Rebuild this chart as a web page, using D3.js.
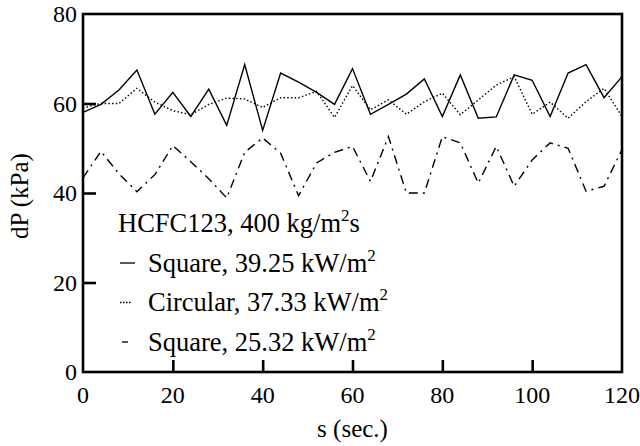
<!DOCTYPE html>
<html>
<head>
<meta charset="utf-8">
<script src="https://cdn.jsdelivr.net/npm/d3@7"></script>
<style>
  body { margin: 0; background: #fff; }
  text { font-family: "Liberation Serif", "Times New Roman", serif; fill: #000; }
</style>
</head>
<body>
<script>
// time in seconds, one reading every 4 s
var times = [0, 4, 8, 12, 16, 20, 24, 28, 32, 36, 40, 44, 48, 52, 56, 60,
             64, 68, 72, 76, 80, 84, 88, 92, 96, 100, 104, 108, 112, 116, 120];

// Square, 39.25 kW/m2
var square39 = [58.0, 59.8, 63.0, 67.5, 57.6, 62.5, 57.1, 63.2, 55.1, 68.7, 54.0,
                66.8, 64.8, 62.5, 59.8, 67.8, 57.6, 59.8, 62.1, 65.5, 57.1, 66.4,
                56.7, 57.0, 66.4, 65.2, 57.1, 66.8, 68.7, 61.3, 66.0];

// Circular, 37.33 kW/m2
var circular37 = [59.0, 60.0, 60.0, 63.4, 60.3, 58.4, 57.5, 59.8, 61.2, 61.0, 59.1,
                  61.3, 61.3, 62.7, 56.9, 64.0, 58.6, 60.8, 57.6, 60.4, 62.3, 57.5,
                  60.8, 64.1, 66.0, 57.6, 60.3, 56.7, 60.4, 63.4, 57.1];

// Square, 25.32 kW/m2
var square25 = [43.4, 49.3, 44.3, 40.3, 44.1, 50.6, 47.0, 43.2, 38.9, 49.1, 52.3,
                48.9, 39.4, 46.7, 49.1, 50.4, 42.6, 52.6, 40.0, 40.0, 52.6, 51.2,
                42.2, 50.4, 41.5, 47.4, 51.2, 50.0, 40.4, 41.5, 49.7];

var xTicks = [0, 20, 40, 60, 80, 100, 120];
var yTicks = [0, 20, 40, 60, 80];

var seriesNames = ["Square, 39.25 kW/m", "Circular, 37.33 kW/m", "Square, 25.32 kW/m"];
var seriesDash = ["none", "1.5,2.2", "9,5,2,5"];
var legendDash = ["none", "1.5,1.5", "none"];
var legendLen = [15, 12, 6];

var width = 640, height = 446;
// plot box (don't use "top", it clashes with window.top)
var pLeft = 83, pRight = 622, pTop = 14, pBottom = 372;

var svg = d3.select("body").append("svg")
    .attr("width", width)
    .attr("height", height);

var x = d3.scaleLinear().domain([0, 120]).range([pLeft, pRight]);
var y = d3.scaleLinear().domain([0, 80]).range([pBottom, pTop]);

// data lines
var line = d3.line()
    .x(function(d) { return x(d[0]); })
    .y(function(d) { return y(d[1]); });

[square39, circular37, square25].forEach(function(vals, i) {
    var pts = times.map(function(t, j) { return [t, vals[j]]; });
    svg.append("path")
        .attr("d", line(pts))
        .attr("fill", "none")
        .attr("stroke", "#000")
        .attr("stroke-width", 1.4)
        .attr("stroke-dasharray", seriesDash[i]);
});

// frame
svg.append("rect")
    .attr("x", pLeft).attr("y", pTop)
    .attr("width", pRight - pLeft).attr("height", pBottom - pTop)
    .attr("fill", "none").attr("stroke", "#000").attr("stroke-width", 2.6);

// ticks, pointing inward
var xAxis = d3.axisTop(x).tickValues(xTicks.slice(1, -1)).tickSize(12).tickFormat("");
svg.append("g").attr("transform", "translate(0," + pBottom + ")").call(xAxis)
    .call(function(g) { g.select(".domain").remove(); })
    .selectAll("line").attr("stroke-width", 2.6);

var yAxis = d3.axisRight(y).tickValues(yTicks.slice(1, -1)).tickSize(13).tickFormat("");
svg.append("g").attr("transform", "translate(" + pLeft + ",0)").call(yAxis)
    .call(function(g) { g.select(".domain").remove(); })
    .selectAll("line").attr("stroke-width", 2.6);

// tick labels
svg.selectAll("text.xlab").data(xTicks).enter().append("text")
    .attr("class", "xlab")
    .attr("x", function(d) { return x(d); })
    .attr("y", 403)
    .attr("text-anchor", "middle")
    .attr("font-size", 24)
    .text(function(d) { return d; });

svg.selectAll("text.ylab").data(yTicks).enter().append("text")
    .attr("class", "ylab")
    .attr("x", pLeft - 6)
    .attr("y", function(d) { return y(d) + 8; })
    .attr("text-anchor", "end")
    .attr("font-size", 24)
    .text(function(d) { return d; });

// axis titles
svg.append("text")
    .attr("x", (pLeft + pRight) / 2).attr("y", 437)
    .attr("text-anchor", "middle").attr("font-size", 25)
    .text("s (sec.)");

svg.append("text")
    .attr("transform", "translate(28,196) rotate(-90)")
    .attr("text-anchor", "middle").attr("font-size", 25)
    .text("dP (kPa)");

// legend
var title = svg.append("text")
    .attr("x", 118).attr("y", 232).attr("font-size", 26.5);
title.append("tspan").text("HCFC123, 400 kg/m");
title.append("tspan").attr("font-size", 17).attr("dy", -11).text("2");
title.append("tspan").attr("dy", 11).text("s");

seriesNames.forEach(function(name, i) {
    var base = 271.5 + i * 39.5;
    svg.append("line")
        .attr("x1", 120 + (i === 2 ? 2 : 0)).attr("x2", 120 + (i === 2 ? 2 : 0) + legendLen[i])
        .attr("y1", base - 8.5).attr("y2", base - 8.5)
        .attr("stroke", "#000").attr("stroke-width", 1.3)
        .attr("stroke-dasharray", legendDash[i]);
    var t = svg.append("text")
        .attr("x", 148).attr("y", base).attr("font-size", 26.5);
    t.append("tspan").text(name);
    t.append("tspan").attr("font-size", 17).attr("dy", -11).text("2");
});
</script>
</body>
</html>
